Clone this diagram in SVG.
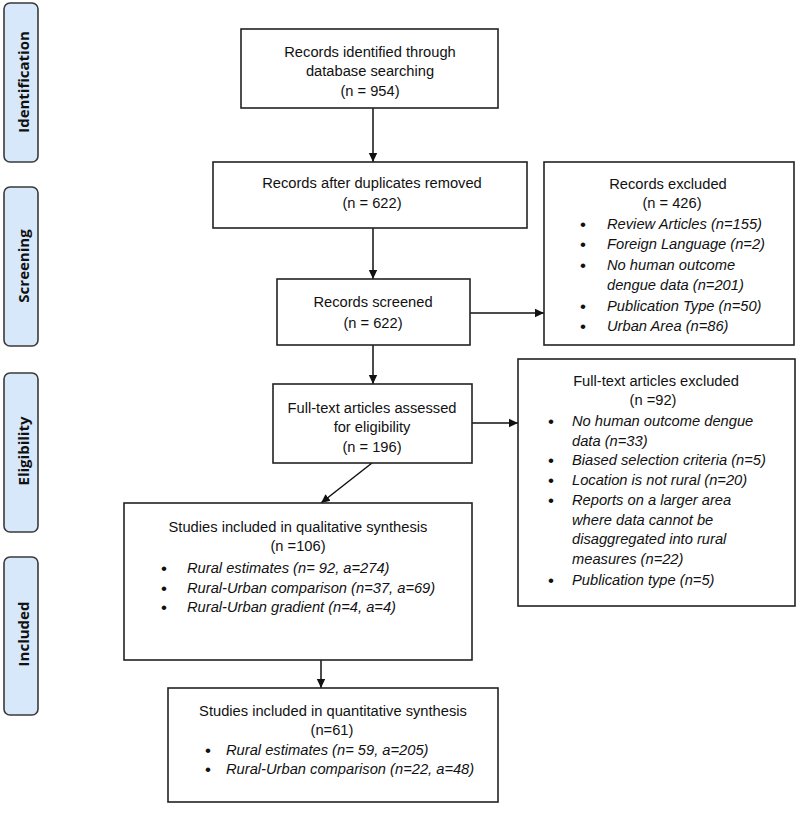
<svg xmlns="http://www.w3.org/2000/svg" width="798" height="815" viewBox="0 0 798 815">
<defs>
<style>
.stage{fill:#d6e8fa;stroke:#3a3a3a;stroke-width:1.6}
.stl{font-family:"Open Sans","Liberation Sans",sans-serif;font-weight:bold;font-size:15px;fill:#111;text-anchor:middle;dominant-baseline:central}
.box{fill:#fff;stroke:#222;stroke-width:1.6}
.t{font-family:"Liberation Sans",Arial,sans-serif;font-size:14.7px;fill:#111}
.c{text-anchor:middle}
.i{font-style:italic}
.b{font-size:17px}
.edge{stroke:#111;stroke-width:1.5;fill:none}
</style>
<marker id="arr" markerUnits="userSpaceOnUse" markerWidth="10" markerHeight="10" refX="9" refY="5" orient="auto">
<path d="M0,0.8 L9,5 L0,9.2 Z" fill="#111"/>
</marker>
</defs>
<rect width="798" height="815" fill="#fff"/>

<g id="stage-identification">
<rect class="stage" x="4" y="3" width="34" height="159" rx="6"/>
<text class="stl" transform="translate(23,82) rotate(-90)">Identification</text>
</g>
<g id="stage-screening">
<rect class="stage" x="4" y="187" width="34" height="159" rx="6"/>
<text class="stl" transform="translate(23,266) rotate(-90)">Screening</text>
</g>
<g id="stage-eligibility">
<rect class="stage" x="4" y="373" width="34" height="159" rx="6"/>
<text class="stl" transform="translate(23,451) rotate(-90)">Eligibility</text>
</g>
<g id="stage-included">
<rect class="stage" x="4" y="557" width="34" height="158" rx="6"/>
<text class="stl" transform="translate(23,634) rotate(-90)">Included</text>
</g>

<g id="connectors">
<line class="edge" x1="373" y1="108" x2="373" y2="162" marker-end="url(#arr)"/>
<line class="edge" x1="373" y1="228" x2="373" y2="279" marker-end="url(#arr)"/>
<line class="edge" x1="470" y1="313" x2="544" y2="313" marker-end="url(#arr)"/>
<line class="edge" x1="373" y1="345" x2="373" y2="384" marker-end="url(#arr)"/>
<line class="edge" x1="472" y1="423" x2="518" y2="423" marker-end="url(#arr)"/>
<line class="edge" x1="372" y1="463" x2="321" y2="503" marker-end="url(#arr)"/>
<line class="edge" x1="321" y1="660" x2="321" y2="688" marker-end="url(#arr)"/>
</g>

<g id="records-identified">
<rect class="box" x="241" y="29" width="257" height="79"/>
<text class="t c" x="370" y="57">Records identified through</text>
<text class="t c" x="370" y="76">database searching</text>
<text class="t c" x="370" y="96">(n = 954)</text>
</g>

<g id="records-after-duplicates">
<rect class="box" x="213" y="162" width="314" height="66"/>
<text class="t c" x="372" y="188">Records after duplicates removed</text>
<text class="t c" x="372" y="208">(n = 622)</text>
</g>

<g id="records-screened">
<rect class="box" x="277" y="279" width="193" height="66"/>
<text class="t c" x="373" y="307">Records screened</text>
<text class="t c" x="373" y="328">(n = 622)</text>
</g>

<g id="records-excluded">
<rect class="box" x="544" y="162" width="250" height="183"/>
<text class="t c" x="668" y="189">Records excluded</text>
<text class="t c" x="672" y="208">(n = 426)</text>
<g class="t">
<text class="b" x="580" y="230">•</text><text class="i" x="607" y="229">Review Articles (n=155)</text>
<text class="b" x="580" y="250">•</text><text class="i" x="607" y="249">Foreign Language (n=2)</text>
<text class="b" x="580" y="271">•</text><text class="i" x="607" y="270">No human outcome</text>
<text class="i" x="607" y="290">dengue data (n=201)</text>
<text class="b" x="580" y="312">•</text><text class="i" x="607" y="311">Publication Type (n=50)</text>
<text class="b" x="580" y="332">•</text><text class="i" x="607" y="331">Urban Area (n=86)</text>
</g>
</g>

<g id="fulltext-assessed">
<rect class="box" x="273" y="384" width="199" height="79"/>
<text class="t c" x="372" y="413">Full-text articles assessed</text>
<text class="t c" x="372" y="432">for eligibility</text>
<text class="t c" x="372" y="452">(n = 196)</text>
</g>

<g id="fulltext-excluded">
<rect class="box" x="518" y="359" width="277" height="247"/>
<text class="t c" x="656" y="386">Full-text articles excluded</text>
<text class="t c" x="653" y="405">(n =92)</text>
<g class="t">
<text class="b" x="548" y="427">•</text><text class="i" x="572" y="426">No human outcome dengue</text>
<text class="i" x="572" y="446">data (n=33)</text>
<text class="b" x="548" y="466">•</text><text class="i" x="572" y="465">Biased selection criteria (n=5)</text>
<text class="b" x="548" y="486">•</text><text class="i" x="572" y="485">Location is not rural (n=20)</text>
<text class="b" x="548" y="506">•</text><text class="i" x="572" y="505">Reports on a larger area</text>
<text class="i" x="572" y="525">where data cannot be</text>
<text class="i" x="572" y="544">disaggregated into rural</text>
<text class="i" x="572" y="564">measures (n=22)</text>
<text class="b" x="548" y="586">•</text><text class="i" x="572" y="585">Publication type (n=5)</text>
</g>
</g>

<g id="qualitative-synthesis">
<rect class="box" x="124" y="503" width="348" height="157"/>
<text class="t c" x="298" y="532">Studies included in qualitative synthesis</text>
<text class="t c" x="298" y="551">(n =106)</text>
<g class="t">
<text class="b" x="161" y="574">•</text><text class="i" x="187" y="573">Rural estimates (n= 92, a=274)</text>
<text class="b" x="161" y="594">•</text><text class="i" x="187" y="593">Rural-Urban comparison (n=37, a=69)</text>
<text class="b" x="161" y="613">•</text><text class="i" x="187" y="612">Rural-Urban gradient (n=4, a=4)</text>
</g>
</g>

<g id="quantitative-synthesis">
<rect class="box" x="168" y="688" width="330" height="114"/>
<text class="t c" x="333" y="716">Studies included in quantitative synthesis</text>
<text class="t c" x="332" y="735">(n=61)</text>
<g class="t">
<text class="b" x="205" y="756">•</text><text class="i" x="226" y="755">Rural estimates (n= 59, a=205)</text>
<text class="b" x="205" y="775">•</text><text class="i" x="226" y="774">Rural-Urban comparison (n=22, a=48)</text>
</g>
</g>
</svg>
